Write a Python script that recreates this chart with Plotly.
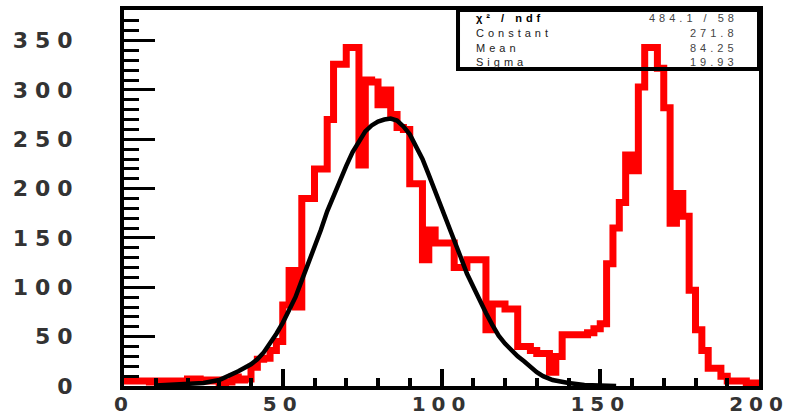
import plotly.graph_objects as go

# ---- data ----
bin_width = 2
x_min, x_max = 0, 200
counts = [5, 5, 5, 5, 4, 5, 5, 5, 5, 5,
          7, 7, 6, 5, 6, 3, 4, 9, 6, 7,
          19, 27, 28, 36, 45, 82, 117, 80, 190, 190,
          220, 220, 270, 326, 326, 343, 343, 224, 310, 308,
          285, 300, 275, 262, 260, 205, 205, 128, 158, 145,
          145, 145, 120, 120, 128, 128, 128, 57, 83, 83,
          78, 78, 40, 40, 36, 33, 33, 14, 30, 52,
          52, 52, 52, 54, 58, 63, 124, 160, 186, 234,
          218, 303, 343, 343, 322, 282, 165, 195, 172, 97,
          57, 36, 18, 18, 10, 5, 5, 5, 3, 3]

fit_x = [10, 15, 20, 25, 30, 33, 36, 40, 42, 44, 46, 48, 50, 52, 54, 56, 58,
         60, 62, 64, 66, 68, 70, 72, 74, 76, 78, 80, 82, 84, 86, 88, 90, 92,
         94, 96, 98, 100, 102, 104, 106, 108, 110, 112, 114, 116, 118, 120,
         122, 124, 126, 128, 130, 132, 135, 140, 145, 150, 155]
fit_y = [0.5, 1, 1.5, 3, 6, 10, 15, 22, 27, 34, 43, 53, 64, 76, 90, 107, 123,
         141, 158, 177, 193, 208, 223, 237, 248, 258, 264, 268, 270, 271, 269,
         263, 255, 242, 230, 214, 198, 182, 164, 148, 131, 114, 100, 87, 74,
         62, 51, 43, 36, 30, 25, 19, 14, 10, 6, 3, 1, 0.5, 0]

x_ticks = [0, 50, 100, 150, 200]
y_ticks = [0, 50, 100, 150, 200, 250, 300, 350]
y_max = 381

stats_labels = ["χ² / ndf", "Constant", "Mean", "Sigma"]
stats_values = ["484.1 / 58", "271.8", "84.25", "19.93"]

# ---- build ----
edges = [x_min + i * bin_width for i in range(len(counts) + 1)]
step_y = counts + [counts[-1]]

def spaced(t, px):
    return f"<span style='letter-spacing:{px}px'>{t}</span>"

fig = go.Figure()
fig.add_trace(go.Scatter(x=edges, y=step_y, mode="lines", line_shape="hv",
                         line=dict(color="#ff0000", width=7), hoverinfo="skip",
                         showlegend=False))
fig.add_trace(go.Scatter(x=fit_x, y=fit_y, mode="lines",
                         line=dict(color="black", width=4.5), hoverinfo="skip",
                         showlegend=False))

y_tick_font = dict(family="DejaVu Sans", size=22, color="#333", weight="bold")
x_tick_font = dict(family="DejaVu Sans", size=20, color="#333", weight="bold")

fig.update_layout(
    width=789, height=418,
    margin=dict(l=124, r=30, t=10, b=32, autoexpand=False),
    plot_bgcolor="white", paper_bgcolor="white",
    xaxis=dict(range=[x_min, x_max], showgrid=False, zeroline=False,
               automargin=False, ticklabeloverflow="allow",
               showline=True, linecolor="black", linewidth=4, mirror=True,
               ticks="inside", ticklen=17, tickwidth=4, tickcolor="black",
               tickvals=x_ticks, ticktext=[spaced(v, 6) for v in x_ticks],
               tickfont=x_tick_font, ticklabelstandoff=-3,
               minor=dict(ticks="inside", ticklen=8, tickwidth=4,
                          tickcolor="black", dtick=10, showgrid=False)),
    yaxis=dict(range=[0, y_max], showgrid=False, zeroline=False,
               automargin=False, ticklabeloverflow="allow",
               showline=True, linecolor="black", linewidth=4, mirror=True,
               ticks="inside", ticklen=31, tickwidth=3, tickcolor="black",
               tickvals=y_ticks, ticktext=[spaced(v, 7) for v in y_ticks],
               tickfont=y_tick_font, ticklabelstandoff=36,
               minor=dict(ticks="inside", ticklen=15, tickwidth=3,
                          tickcolor="black", dtick=10, showgrid=False)),
)

# stats box
box_x0, box_x1, box_y0, box_y1 = 0.526, 1.0, 0.843, 1.0
fig.add_shape(type="rect", xref="paper", yref="paper",
              x0=box_x0, x1=box_x1, y0=box_y0, y1=box_y1,
              line=dict(color="black", width=4), fillcolor="rgba(0,0,0,0)",
              layer="above")
row_h = (box_y1 - box_y0) / 4
for i, (lab, val) in enumerate(zip(stats_labels, stats_values)):
    yy = box_y1 - row_h * (i + 0.55)
    fig.add_annotation(xref="paper", yref="paper", x=box_x0 + 0.025, y=yy,
                       text=spaced(lab, 4), showarrow=False, xanchor="left",
                       yanchor="middle",
                       font=dict(family="Liberation Sans", size=11,
                                 color="#222" if i else "black",
                                 weight="bold" if i == 0 else "normal"))
    fig.add_annotation(xref="paper", yref="paper", x=box_x1 - 0.03, y=yy,
                       text=spaced(val, 4), showarrow=False, xanchor="right",
                       yanchor="middle",
                       font=dict(family="Liberation Sans", size=11, color="#444"))

fig.write_html("out.html",
               config={"displayModeBar": False, "staticPlot": True},
               post_script="document.body.style.margin='0';"
                           "document.body.style.overflow='hidden';")
